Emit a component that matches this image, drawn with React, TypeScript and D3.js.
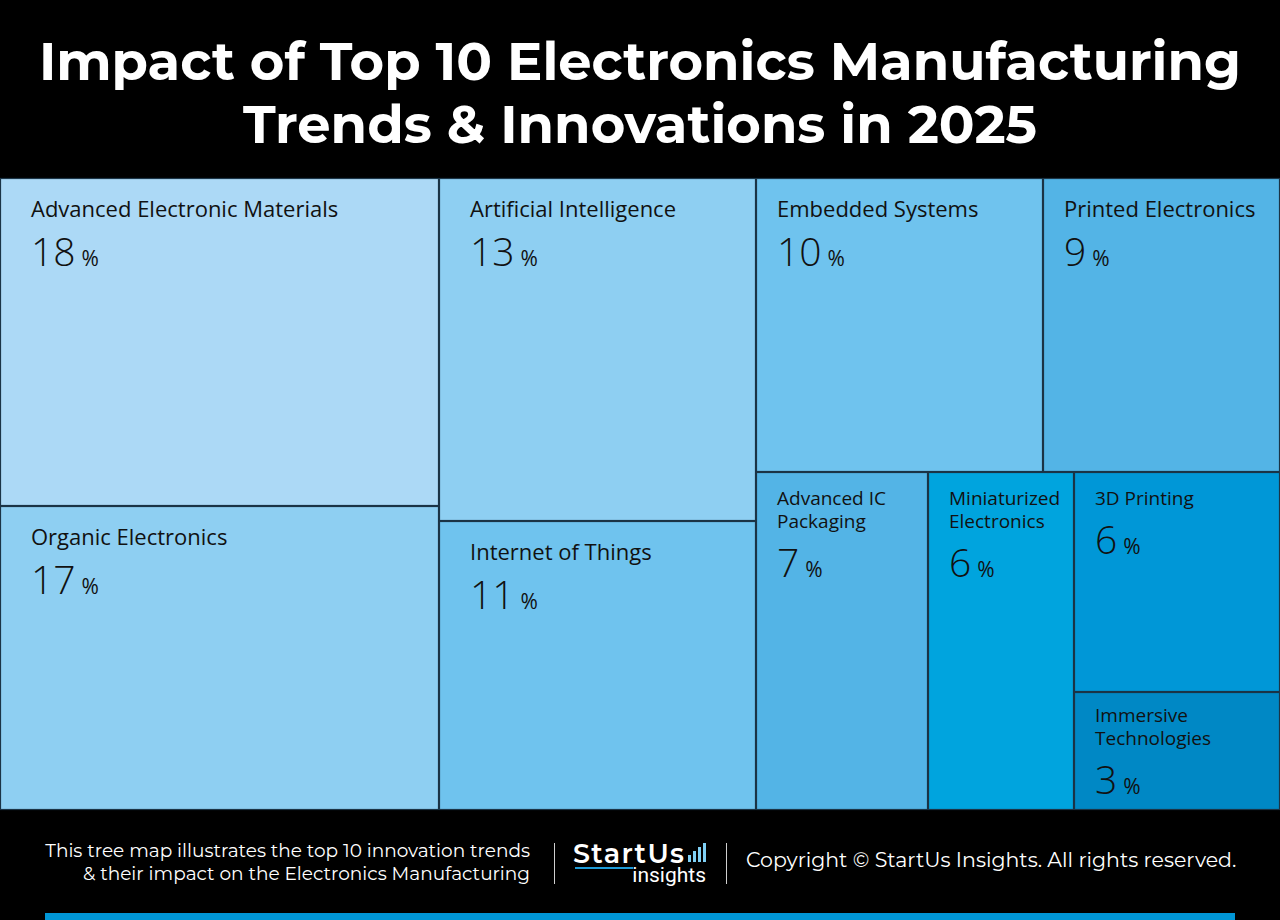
import React, { useEffect } from "react";
import * as d3 from "d3";

// ---- data ----
const trends = [
  "Advanced Electronic Materials",
  "Organic Electronics",
  "Artificial Intelligence",
  "Internet of Things",
  "Embedded Systems",
  "Printed Electronics",
  "Advanced IC Packaging",
  "Miniaturized Electronics",
  "3D Printing",
  "Immersive Technologies",
];
const labelLines = [
  ["Advanced Electronic Materials"],
  ["Organic Electronics"],
  ["Artificial Intelligence"],
  ["Internet of Things"],
  ["Embedded Systems"],
  ["Printed Electronics"],
  ["Advanced IC", "Packaging"],
  ["Miniaturized", "Electronics"],
  ["3D Printing"],
  ["Immersive", "Technologies"],
];
// displayed impact share (%)
const shares = [18, 17, 13, 11, 10, 9, 7, 6, 6, 3];
// tile weights as read from the tile areas
const weights = [17.8, 16.5, 13.4, 11.3, 10.4, 8.6, 7.2, 6.1, 5.6, 3.0];
// nesting used by the slice/dice layout
const groupPath = ["a", "a", "b", "b", "c/top", "c/top", "c/bottom", "c/bottom", "c/bottom/stack", "c/bottom/stack"];
const tileColors = ["#acd9f6", "#8ecff2", "#8ecff2", "#6fc3ee", "#6fc3ee", "#53b4e6", "#53b4e6", "#00a4de", "#0097d7", "#0088c5"];

const titleLines = ["Impact of Top 10 Electronics Manufacturing", "Trends & Innovations in 2025"];
const footerLines = ["This tree map illustrates the top 10 innovation trends", "& their impact on the Electronics Manufacturing"];
const copyright = "Copyright © StartUs Insights. All rights reserved.";
const logoBars = [7, 11, 15, 19];

const W = 1280;
const H = 920;
const mapTop = 178;
const mapBottom = 810;

type Node = { name: string; children?: Node[]; value?: number; idx?: number };

function buildTree(): Node {
  const root: Node = { name: "root", children: [] };
  trends.forEach((t, i) => {
    let cur = root;
    for (const part of groupPath[i].split("/")) {
      let next = cur.children!.find((c) => c.name === part && c.children);
      if (!next) {
        next = { name: part, children: [] };
        cur.children!.push(next);
      }
      cur = next;
    }
    cur.children!.push({ name: t, value: weights[i], idx: i });
  });
  return root;
}

export default function App() {
  useEffect(() => {
    document.body.style.margin = "0";
  }, []);

  const root = d3.hierarchy<Node>(buildTree()).sum((d) => d.value ?? 0);
  d3.treemap<Node>().tile(d3.treemapSliceDice).size([W, mapBottom - mapTop]).round(true)(root);
  const leaves = root.leaves() as d3.HierarchyRectangularNode<Node>[];

  const sansFont = "'Open Sans', 'Noto Sans', sans-serif";
  const montFont = "'Montserrat', 'Open Sans', sans-serif";

  return (
    <svg width={W} height={H} style={{ display: "block" }} fontFamily={sansFont}>
      <rect x={0} y={0} width={W} height={H} fill="#000" />
      {titleLines.map((t, i) => (
        <text key={i} x={W / 2} y={80 + i * 63} textAnchor="middle" fill="#fff" fontSize={52.8} fontWeight={700}
          fontFamily={montFont}>
          {t}
        </text>
      ))}
      <g transform={`translate(0,${mapTop})`}>
        {leaves.map((d) => {
          const i = d.data.idx!;
          const w = d.x1 - d.x0;
          const h = d.y1 - d.y0;
          const m = Math.min(w, h);
          const padX = w > 300 ? 31 : 21;
          const padY = m >= 230 ? 39 : m >= 140 ? 33 : 30;
          const labelSize = w >= 230 ? 22 : 19;
          const lines = labelLines[i];
          const numY = padY + (lines.length - 1) * 23 + 49;
          return (
            <g key={i} transform={`translate(${d.x0},${d.y0})`}>
              <rect x={0.5} y={0.5} width={w - 1} height={h - 1} fill={tileColors[i]} stroke="#1b3446" strokeWidth={1.2} />
              <text x={padX} y={padY} fill="#111" fontSize={labelSize}>
                {lines.map((l, j) => (
                  <tspan key={j} x={padX} dy={j === 0 ? 0 : 23}>{l}</tspan>
                ))}
              </text>
              <text x={padX} y={numY} fill="#111">
                <tspan fontSize={39} fontWeight={300}>{shares[i]}</tspan>
                <tspan fontSize={21} dx={6}>%</tspan>
              </text>
            </g>
          );
        })}
      </g>
      {/* footer */}
      {footerLines.map((t, i) => (
        <text key={i} x={530} y={857 + i * 23} textAnchor="end" fill="#fff" fontSize={18.5} fontWeight={400}
          fontFamily={montFont}>
          {t}
        </text>
      ))}
      <line x1={554.5} x2={554.5} y1={843} y2={884} stroke="#cfcfcf" strokeWidth={1} />
      <line x1={726.5} x2={726.5} y1={843} y2={884} stroke="#cfcfcf" strokeWidth={1} />
      <text x={573} y={863} fill="#fff" fontSize={27} fontWeight={600} fontFamily={montFont} textLength={111}>StartUs</text>
      {logoBars.map((bh, k) => (
        <rect key={k} x={688 + k * 5} y={862 - bh} width={3} height={bh} fill="#7fd0f5" />
      ))}
      <rect x={575} y={867} width={58} height={2} fill="#1e9bd7" />
      <text x={706} y={882} textAnchor="end" fill="#fff" fontSize={21} fontFamily="Roboto, sans-serif">insights</text>
      <text x={746} y={867} fill="#fff" fontSize={20.5} fontFamily={montFont}>{copyright}</text>
      <rect x={45} y={913} width={1190} height={7} fill="#0096d6" />
    </svg>
  );
}
